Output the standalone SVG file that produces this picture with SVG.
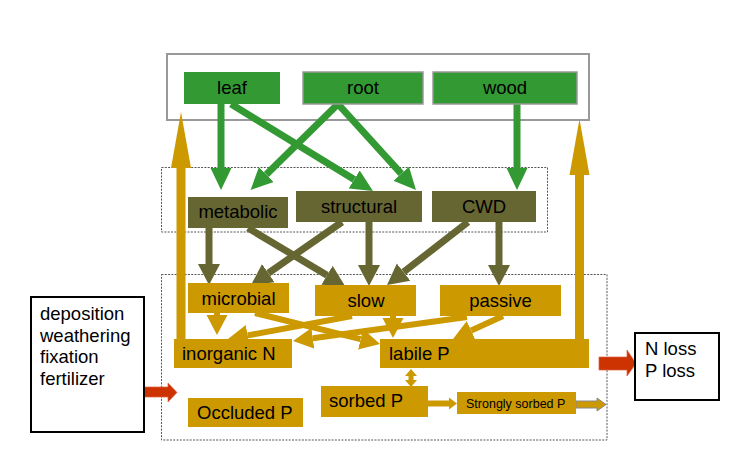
<svg xmlns="http://www.w3.org/2000/svg" width="745" height="455" viewBox="0 0 745 455">
<defs>
<style>
text{font-family:"Liberation Sans",Arial,sans-serif;font-size:18.5px;fill:#000}
.frame{fill:none;stroke:#555;stroke-width:1;stroke-dasharray:2 1.3}
.veg{fill:#339933}
.veg2{fill:#339933;stroke:#999;stroke-width:1.5}
.lit{fill:#666633}
.soil{fill:#cc9900}
.ext{fill:#fff;stroke:#000;stroke-width:2}
.g{stroke:#339933;stroke-width:7;fill:none}
.o{stroke:#666633;stroke-width:7;fill:none}
.y{stroke:#cc9900;stroke-width:6;fill:none}
.up{stroke:#cc9900;stroke-width:9;fill:none}
.mid{text-anchor:middle}
</style>
<marker id="mg" markerUnits="userSpaceOnUse" markerWidth="24" markerHeight="24" refX="0" refY="0" viewBox="0 -12 24 24" orient="auto"><path d="M0,-10.5 L22,0 L0,10.5 z" fill="#339933"/></marker>
<marker id="mo" markerUnits="userSpaceOnUse" markerWidth="24" markerHeight="24" refX="0" refY="0" viewBox="0 -12 24 24" orient="auto"><path d="M0,-11 L21,0 L0,11 z" fill="#666633"/></marker>
<marker id="my" markerUnits="userSpaceOnUse" markerWidth="24" markerHeight="24" refX="0" refY="0" viewBox="0 -12 24 24" orient="auto"><path d="M0,-10.5 L20,0 L0,10.5 z" fill="#cc9900"/></marker>
<marker id="mu" markerUnits="userSpaceOnUse" markerWidth="60" markerHeight="24" refX="0" refY="0" viewBox="0 -12 60 24" orient="auto"><path d="M0,-10 L56,0 L0,10 z" fill="#cc9900"/></marker>
</defs>
<rect width="745" height="455" fill="#fff"/>
<g id="frames">
<rect x="167" y="54" width="422" height="66" fill="none" stroke="#999" stroke-width="2"/>
<rect class="frame" x="161.5" y="167.5" width="386" height="64.5"/>
<rect class="frame" x="161.5" y="274.5" width="445.5" height="165.5"/>
</g>
<g id="connectors">
<line class="g" x1="221" y1="104" x2="221" y2="168" marker-end="url(#mg)"/>
<line class="g" x1="517" y1="104" x2="517" y2="168" marker-end="url(#mg)"/>
<line class="g" x1="231" y1="104" x2="354.2" y2="179.5" marker-end="url(#mg)"/>
<line class="g" x1="338" y1="104" x2="266.3" y2="174.5" marker-end="url(#mg)"/>
<line class="g" x1="338" y1="104" x2="401.2" y2="173.7" marker-end="url(#mg)"/>
<line class="o" x1="209" y1="228" x2="209" y2="264" marker-end="url(#mo)"/>
<line class="o" x1="248" y1="228" x2="327" y2="275.2" marker-end="url(#mo)"/>
<line class="o" x1="342" y1="222" x2="268.3" y2="273.1" marker-end="url(#mo)"/>
<line class="o" x1="369" y1="222" x2="369" y2="265" marker-end="url(#mo)"/>
<line class="o" x1="468" y1="222" x2="403.6" y2="272.1" marker-end="url(#mo)"/>
<line class="o" x1="499" y1="222" x2="499" y2="265" marker-end="url(#mo)"/>
<line class="y" x1="217" y1="312" x2="217" y2="315" marker-end="url(#my)"/>
<line class="y" x1="255" y1="313" x2="360.6" y2="339.2" marker-end="url(#my)"/>
<line class="y" x1="352" y1="316" x2="247.7" y2="335.4" marker-end="url(#my)"/>
<line class="y" x1="393" y1="315" x2="393" y2="318" marker-end="url(#my)"/>
<line class="y" x1="467" y1="317" x2="312.8" y2="338.3" marker-end="url(#my)"/>
<line class="y" x1="503" y1="316" x2="471.2" y2="330.6" marker-end="url(#my)"/>
<line class="up" x1="181" y1="340" x2="181" y2="168" marker-end="url(#mu)"/>
<line class="up" x1="579.5" y1="340" x2="579.5" y2="175" marker-end="url(#mu)"/>
<polygon points="411,369 417,376 413.5,376 413.5,380 417,380 411,387 405,380 408.5,380 408.5,376 405,376" fill="#cc9900"/>
<polygon points="428,400.5 449,400.5 449,397.5 457,403.5 449,409.5 449,406.5 428,406.5" fill="#cc9900"/>
<polygon points="576,401 597,401 597,398 606,404.5 597,411 597,408 576,408" fill="#cc9900" stroke="#888" stroke-width="1"/>
<polygon points="144,387 168,387 168,383 177,392.5 168,402 168,397 144,397" fill="#cc3300" stroke="#e06040" stroke-width="0.7"/>
<polygon points="599,357 627,357 627,350 636,363.5 627,376 627,370 599,370" fill="#cc3300" stroke="#e06040" stroke-width="0.7"/>
</g>
<g id="leaf"><rect class="veg" x="184" y="72" width="96" height="32"/><text class="mid" x="232" y="94">leaf</text></g>
<g id="root"><rect class="veg2" x="303" y="72" width="120" height="32"/><text class="mid" x="363" y="94">root</text></g>
<g id="wood"><rect class="veg2" x="433" y="72" width="144" height="32"/><text class="mid" x="505" y="94">wood</text></g>
<g id="metabolic"><rect class="lit" x="188" y="197" width="100" height="31"/><text class="mid" x="238" y="218">metabolic</text></g>
<g id="structural"><rect class="lit" x="296" y="191" width="126" height="31"/><text class="mid" x="359" y="213">structural</text></g>
<g id="cwd"><rect class="lit" x="432" y="191" width="104" height="31"/><text class="mid" x="484" y="213">CWD</text></g>
<g id="microbial"><rect class="soil" x="188" y="283" width="101" height="30"/><text class="mid" x="238.5" y="305">microbial</text></g>
<g id="slow"><rect class="soil" x="315" y="285" width="101" height="31"/><text class="mid" x="366" y="307">slow</text></g>
<g id="passive"><rect class="soil" x="440" y="285" width="121" height="31"/><text class="mid" x="500.5" y="307">passive</text></g>
<g id="inorganicN"><rect class="soil" x="174" y="339" width="118" height="29"/><text x="182" y="360">inorganic N</text></g>
<g id="labileP"><rect class="soil" x="380" y="339" width="209" height="29"/><text x="389" y="360">labile P</text></g>
<g id="sorbedP"><rect class="soil" x="321" y="386" width="107" height="31"/><text x="329" y="407">sorbed P</text></g>
<g id="occludedP"><rect class="soil" x="188" y="398" width="115" height="29"/><text x="197" y="419">Occluded P</text></g>
<g id="stronglySorbedP"><rect class="soil" x="457" y="392" width="119" height="22"/><text x="466" y="407.5" style="font-size:12.5px">Strongly sorbed P</text></g>
<g id="inputs"><rect class="ext" x="31" y="297" width="113" height="135"/>
<text x="40" y="320">deposition</text><text x="40" y="342">weathering</text><text x="40" y="363">fixation</text><text x="40" y="385">fertilizer</text></g>
<g id="losses"><rect class="ext" x="635" y="333" width="84" height="67"/>
<text x="645" y="355">N loss</text><text x="645" y="377">P loss</text></g>
</svg>
